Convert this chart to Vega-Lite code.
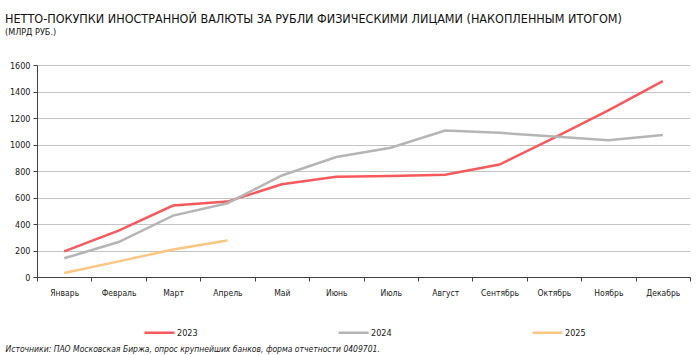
{
  "$schema": "https://vega.github.io/schema/vega-lite/v6.json",
  "width": 653,
  "height": 212,
  "autosize": "none",
  "padding": {"left": 37, "top": 65, "right": 10, "bottom": 78},
  "background": "white",
  "config": {
    "view": {"stroke": null},
    "font": "Liberation Sans Narrow, DejaVu Sans Condensed, sans-serif"
  },
  "title": {
    "text": "НЕТТО-ПОКУПКИ ИНОСТРАННОЙ ВАЛЮТЫ ЗА РУБЛИ ФИЗИЧЕСКИМИ ЛИЦАМИ (НАКОПЛЕННЫМ ИТОГОМ)",
    "subtitle": "(МЛРД РУБ.)",
    "anchor": "start",
    "frame": "group",
    "dx": -32,
    "offset": 24,
    "fontSize": 12.5,
    "fontWeight": 500,
    "color": "#111111",
    "subtitleFontSize": 9,
    "subtitleColor": "#111111",
    "subtitlePadding": 3
  },
  "data": {
    "values": [
      {"month": "Январь", "year": "2023", "value": 194},
      {"month": "Февраль", "year": "2023", "value": 350},
      {"month": "Март", "year": "2023", "value": 539},
      {"month": "Апрель", "year": "2023", "value": 569},
      {"month": "Май", "year": "2023", "value": 700},
      {"month": "Июнь", "year": "2023", "value": 756},
      {"month": "Июль", "year": "2023", "value": 763},
      {"month": "Август", "year": "2023", "value": 771},
      {"month": "Сентябрь", "year": "2023", "value": 849},
      {"month": "Октябрь", "year": "2023", "value": 1050},
      {"month": "Ноябрь", "year": "2023", "value": 1257},
      {"month": "Декабрь", "year": "2023", "value": 1479},
      {"month": "Январь", "year": "2024", "value": 141},
      {"month": "Февраль", "year": "2024", "value": 264},
      {"month": "Март", "year": "2024", "value": 463},
      {"month": "Апрель", "year": "2024", "value": 557},
      {"month": "Май", "year": "2024", "value": 766},
      {"month": "Июнь", "year": "2024", "value": 905},
      {"month": "Июль", "year": "2024", "value": 975},
      {"month": "Август", "year": "2024", "value": 1106},
      {"month": "Сентябрь", "year": "2024", "value": 1088},
      {"month": "Октябрь", "year": "2024", "value": 1060},
      {"month": "Ноябрь", "year": "2024", "value": 1033},
      {"month": "Декабрь", "year": "2024", "value": 1071},
      {"month": "Январь", "year": "2025", "value": 30},
      {"month": "Февраль", "year": "2025", "value": 118},
      {"month": "Март", "year": "2025", "value": 207},
      {"month": "Апрель", "year": "2025", "value": 275}
    ]
  },
  "mark": {"type": "line", "strokeWidth": 2.5},
  "encoding": {
    "x": {
      "field": "month",
      "type": "ordinal",
      "sort": ["Январь", "Февраль", "Март", "Апрель", "Май", "Июнь", "Июль", "Август", "Сентябрь", "Октябрь", "Ноябрь", "Декабрь"],
      "scale": {"type": "band", "paddingInner": 0, "paddingOuter": 0},
      "axis": {
        "title": "Источники: ПАО Московская Биржа, опрос крупнейших банков, форма отчетности 0409701.",
        "titleFontStyle": "italic",
        "titleFontWeight": "normal",
        "titleFontSize": 8.5,
        "titleColor": "#1a1a1a",
        "titleAlign": "left",
        "titleAnchor": "start",
        "titleX": -32,
        "titleY": 74,
        "titleBaseline": "alphabetic",
        "labelAngle": 0,
        "labelFontSize": 8.5,
        "labelColor": "#1a1a1a",
        "labelPadding": 7,
        "tickBand": "extent",
        "tickSize": 4,
        "tickColor": "#404040",
        "domainColor": "#404040",
        "grid": false
      }
    },
    "y": {
      "field": "value",
      "type": "quantitative",
      "scale": {"domain": [0, 1600], "nice": false},
      "axis": {
        "title": null,
        "values": [0, 200, 400, 600, 800, 1000, 1200, 1400, 1600],
        "format": "d",
        "labelFontSize": 9,
        "labelColor": "#1a1a1a",
        "labelPadding": 3,
        "tickSize": 4,
        "tickColor": "#404040",
        "domainColor": "#404040",
        "gridColor": "#c4c4c4",
        "gridWidth": 1
      }
    },
    "color": {
      "field": "year",
      "type": "nominal",
      "scale": {"domain": ["2023", "2024", "2025"], "range": ["#f85a5c", "#b5b5b5", "#fdc681"]},
      "legend": {
        "title": null,
        "orient": "none",
        "legendX": 106,
        "legendY": 251,
        "direction": "horizontal",
        "columns": 3,
        "gridAlign": "all",
        "columnPadding": 135,
        "symbolType": "stroke",
        "symbolSize": 900,
        "symbolStrokeWidth": 2.5,
        "labelFontSize": 9,
        "labelColor": "#1a1a1a",
        "labelOffset": 1
      }
    }
  }
}
